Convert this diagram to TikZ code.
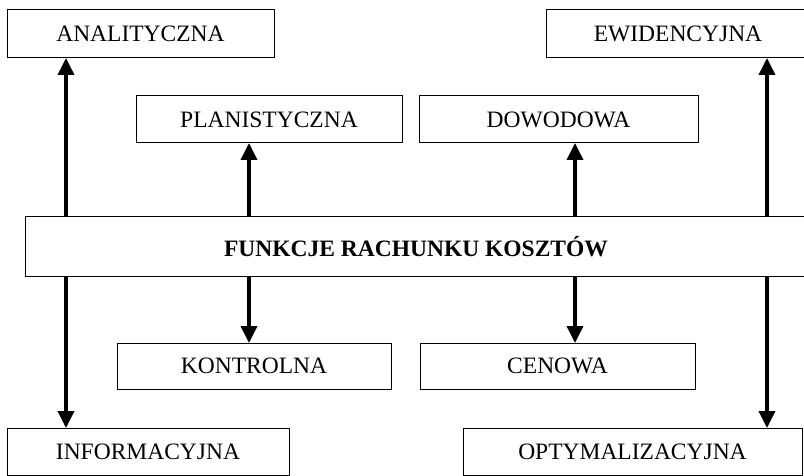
\documentclass[tikz,border=0pt]{standalone}
\usepackage{fontspec}
\setmainfont{Liberation Serif}
\usetikzlibrary{arrows.meta}
\tikzset{
    box/.style={draw, line width=1pt, inner sep=0pt, outer sep=0pt,
        font=\fontsize{23.5}{28}\selectfont},
    arr/.style={line width=3.6pt, -{Triangle[width=16pt,length=17pt]}}
}
\begin{document}
\begin{tikzpicture}[x=1pt, y=-1pt]
    \useasboundingbox (0,0) rectangle (804,476);
    \node[box, minimum width=782pt, minimum height=59pt] (fun) at (416,246.5) {\textbf{FUNKCJE RACHUNKU KOSZTÓW}};
    \node[box, minimum width=267pt, minimum height=48pt] (ana) at (140.5,34) {ANALITYCZNA};
    \node[box, minimum width=264pt, minimum height=48pt] (ewi) at (678,34) {EWIDENCYJNA};
    \node[box, minimum width=266pt, minimum height=47pt] (pla) at (269,119.5) {PLANISTYCZNA};
    \node[box, minimum width=279pt, minimum height=47pt] (dow) at (558.5,119.5) {DOWODOWA};
    \node[box, minimum width=274pt, minimum height=46pt] (kon) at (254,366) {KONTROLNA};
    \node[box, minimum width=275pt, minimum height=46pt] (cen) at (557.5,366) {CENOWA};
    \node[box, minimum width=282pt, minimum height=47pt] (inf) at (148,451.5) {INFORMACYJNA};
    \node[box, minimum width=339pt, minimum height=47pt] (opt) at (632.5,451.5) {OPTYMALIZACYJNA};
    \coordinate (c1) at (66,0);
    \coordinate (c2) at (249,0);
    \coordinate (c3) at (575,0);
    \coordinate (c4) at (767,0);
    \draw[arr] (fun.north -| c1) -- (ana.south -| c1);
    \draw[arr] (fun.north -| c2) -- (pla.south -| c2);
    \draw[arr] (fun.north -| c3) -- (dow.south -| c3);
    \draw[arr] (fun.north -| c4) -- (ewi.south -| c4);
    \draw[arr] (fun.south -| c1) -- (inf.north -| c1);
    \draw[arr] (fun.south -| c2) -- (kon.north -| c2);
    \draw[arr] (fun.south -| c3) -- (cen.north -| c3);
    \draw[arr] (fun.south -| c4) -- (opt.north -| c4);
\end{tikzpicture}
\end{document}
